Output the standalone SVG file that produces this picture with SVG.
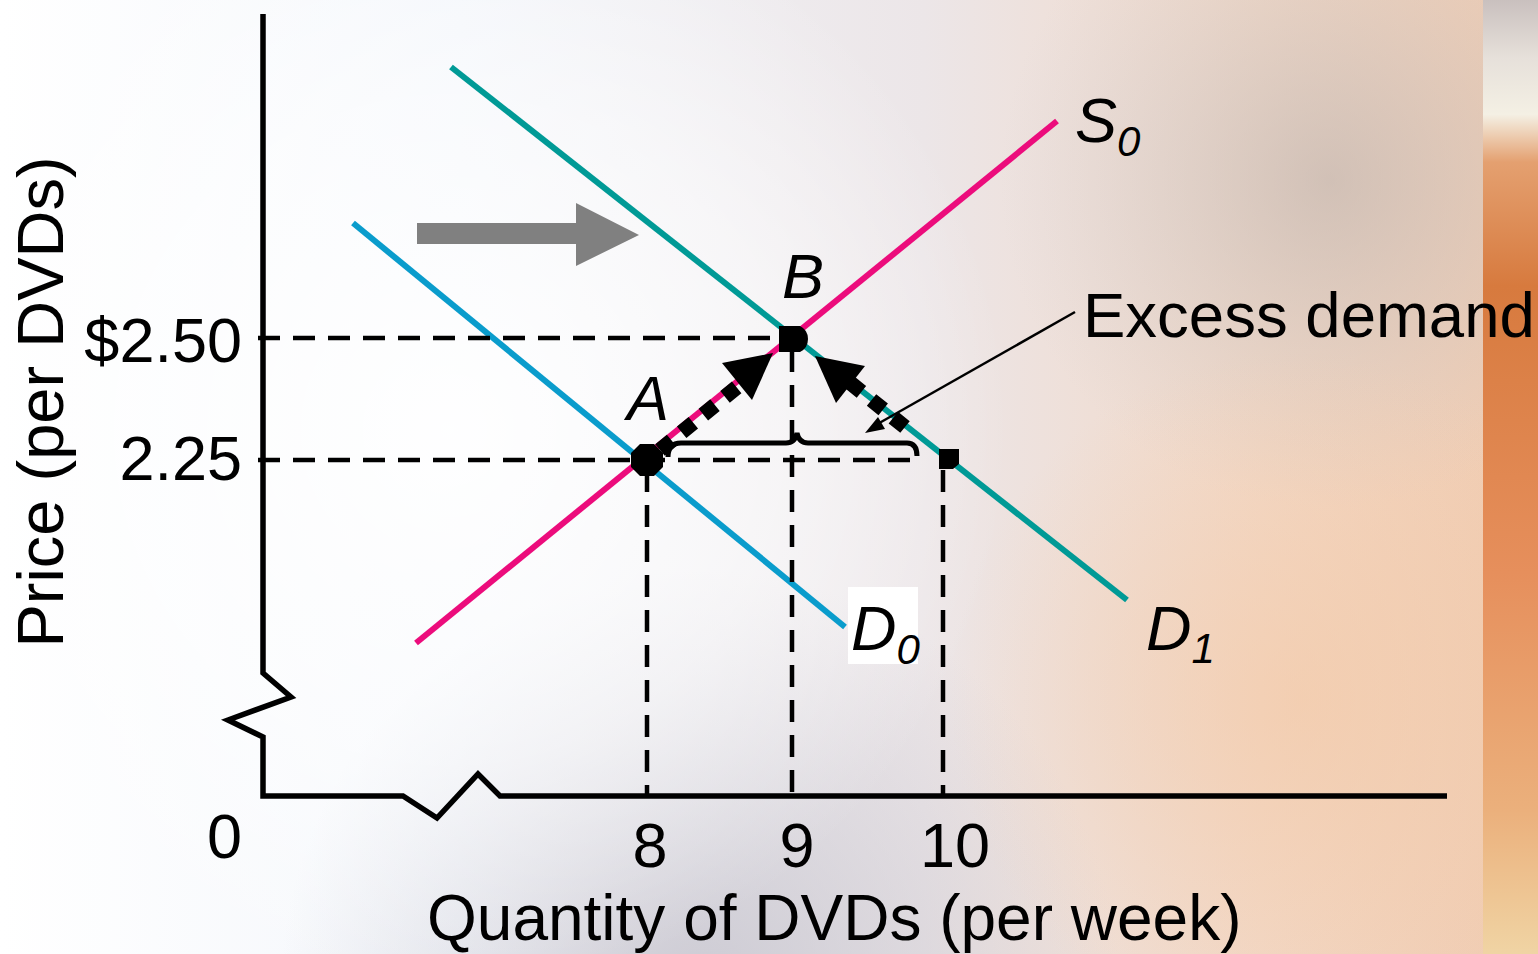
<svg xmlns="http://www.w3.org/2000/svg" width="1538" height="954" viewBox="0 0 1538 954">
<defs>
<linearGradient id="bg" x1="0" y1="0" x2="1" y2="0">
<stop offset="0" stop-color="#ffffff"/>
<stop offset="0.3" stop-color="#f3f6fb"/>
<stop offset="0.6" stop-color="#ece6e8"/>
<stop offset="0.82" stop-color="#f2d8c6"/>
<stop offset="1" stop-color="#f0cbb0"/>
</linearGradient>
<radialGradient id="glow" cx="450" cy="430" r="560" gradientUnits="userSpaceOnUse">
<stop offset="0" stop-color="#ffffff" stop-opacity="0.95"/>
<stop offset="0.6" stop-color="#ffffff" stop-opacity="0.5"/>
<stop offset="1" stop-color="#ffffff" stop-opacity="0"/>
</radialGradient>
<radialGradient id="bot" cx="700" cy="990" r="420" gradientUnits="userSpaceOnUse">
<stop offset="0" stop-color="#c4c2cc" stop-opacity="0.8"/>
<stop offset="1" stop-color="#c4c2cc" stop-opacity="0"/>
</radialGradient>
<radialGradient id="tr" cx="1330" cy="180" r="330" gradientUnits="userSpaceOnUse">
<stop offset="0" stop-color="#b7b0ae" stop-opacity="0.55"/>
<stop offset="1" stop-color="#c0c4cc" stop-opacity="0"/>
</radialGradient>
<radialGradient id="br" cx="1300" cy="700" r="350" gradientUnits="userSpaceOnUse">
<stop offset="0" stop-color="#f4c9a6" stop-opacity="0.6"/>
<stop offset="1" stop-color="#f4c9a6" stop-opacity="0"/>
</radialGradient>
<linearGradient id="strip" x1="0" y1="0" x2="0" y2="1">
<stop offset="0" stop-color="#c9c0be"/>
<stop offset="0.06" stop-color="#e6e0da"/>
<stop offset="0.12" stop-color="#f4f0e4"/>
<stop offset="0.17" stop-color="#e4a070"/>
<stop offset="0.3" stop-color="#d77a3e"/>
<stop offset="0.6" stop-color="#e68f5c"/>
<stop offset="0.85" stop-color="#ebb07c"/>
<stop offset="1" stop-color="#f0d4a4"/>
</linearGradient>
<style>
.ax{fill:none;stroke:#000;stroke-width:5.5;stroke-linejoin:miter}
.dash{fill:none;stroke:#000;stroke-width:4.5;stroke-dasharray:22 13}
.curve{fill:none;stroke-width:6}
.dots{fill:none;stroke:#000;stroke-width:15;stroke-dasharray:15 13}
.t{font-family:"Liberation Sans",Arial,sans-serif;font-size:63px;fill:#000}
.it{font-style:italic}
.sub{font-size:42px}
.big{font-size:64px}
.bigger{font-size:65px}
.ex{font-size:63.5px}
</style>
</defs>
<g id="background">
<rect x="0" y="0" width="1538" height="954" fill="url(#bg)"/>
<rect x="0" y="0" width="1538" height="954" fill="url(#tr)"/>
<rect x="0" y="0" width="1538" height="954" fill="url(#bot)"/>
<rect x="0" y="0" width="1538" height="954" fill="url(#br)"/>
<rect x="0" y="0" width="1538" height="954" fill="url(#glow)"/>
<rect x="1483" y="0" width="55" height="954" fill="url(#strip)"/>
</g>
<g id="axes">
<path class="ax" d="M263 14 L263 673 L291 697 L228 720 L263 737 L263 796 L403 796 L437 818 L478 774 L500 796 L1447 796"/>
</g>
<g id="curve-S0">
<line class="curve" stroke="#ec0c7c" x1="416" y1="643" x2="1057" y2="121"/>
<text class="t it" x="1075" y="142">S<tspan class="sub" dy="14">0</tspan></text>
</g>
<g id="curve-D0">
<line class="curve" stroke="#0a9ccc" x1="353" y1="223" x2="845" y2="627"/>
<rect x="848" y="587" width="70" height="77" fill="#ffffff"/>
<text class="t it" x="851" y="650">D<tspan class="sub" dy="14">0</tspan></text>
</g>
<g id="curve-D1">
<line class="curve" stroke="#009a96" x1="451" y1="67" x2="1127" y2="600"/>
<text class="t it" x="1146" y="650">D<tspan class="sub" dy="13">1</tspan></text>
</g>
<g id="connectors">
<path class="dash" d="M258 338 H792"/>
<path class="dash" d="M258 460 H920"/>
<path class="dash" d="M647 470 V796"/>
<path class="dash" d="M792 350 V796"/>
<path class="dash" d="M943 470 V796"/>
<polygon points="417,223 576,223 576,203 639,235 576,266 576,244 417,244" fill="#808080"/>
<line class="dots" x1="660" y1="450" x2="742" y2="383"/>
<polygon points="722,363 773,353 752,400" fill="#000"/>
<line class="dots" x1="905" y1="427" x2="848" y2="381"/>
<polygon points="815,356 865,366 836,403" fill="#000"/>
<path d="M668 457 Q668 443 681 443 L786 443 Q795 443 797 433 Q799 443 808 443 L907 443 Q917 443 917 456" fill="none" stroke="#000" stroke-width="5"/>
<line x1="1075" y1="312" x2="874" y2="426" stroke="#000" stroke-width="2.5"/>
<polygon points="865,433 878,417 885,429" fill="#000"/>
</g>
<g id="point-A">
<polygon points="640,444 654,444 663,453 663,467 654,476 640,476 631,467 631,453" fill="#000"/>
<text class="t it" x="627" y="420">A</text>
</g>
<g id="point-B">
<path d="M779 326 L800 326 Q808 330 808 339 Q808 348 800 352 L779 352 Z" fill="#000"/>
<text class="t it" x="782" y="298">B</text>
</g>
<g id="point-C">
<path d="M939 449 L959 449 L959 464 L953 469 L939 469 Z" fill="#000"/>
</g>
<g id="label-excess">
<text class="t ex" x="1083" y="337">Excess demand</text>
</g>
<g id="labels">
<text class="t" x="242" y="362" text-anchor="end">$2.50</text>
<text class="t" x="242" y="480" text-anchor="end">2.25</text>
<text class="t" x="207" y="858">0</text>
<text class="t" x="650" y="867" text-anchor="middle">8</text>
<text class="t" x="797" y="867" text-anchor="middle">9</text>
<text class="t" x="955" y="867" text-anchor="middle">10</text>
<text class="t big" x="427" y="940">Quantity of DVDs (per week)</text>
<text class="t bigger" transform="translate(63 402) rotate(-90)" text-anchor="middle">Price (per DVDs)</text>
</g>
</svg>
